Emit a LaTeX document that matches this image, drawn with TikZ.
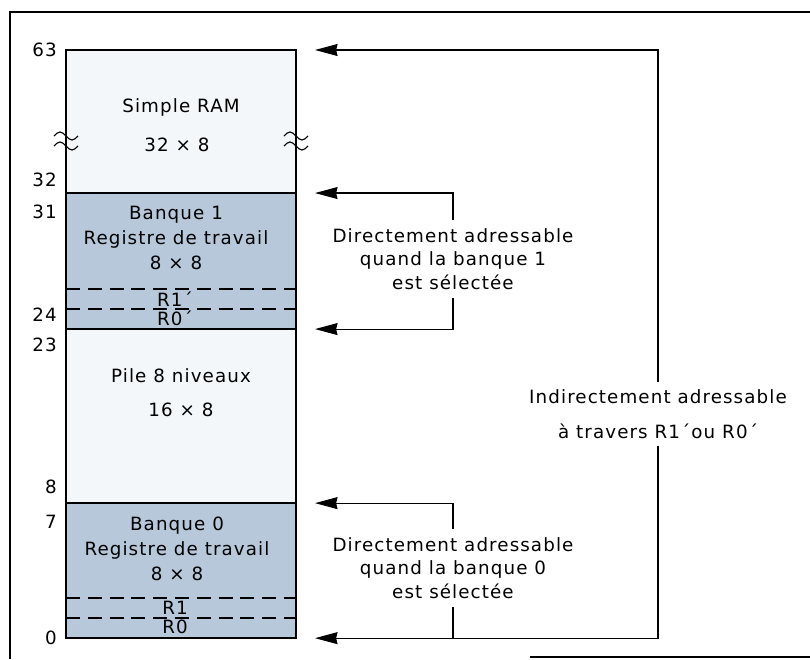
\documentclass[tikz,border=0pt]{standalone}
\usepackage{fontspec}
\setmainfont{DejaVu Sans}[LetterSpace=6]
\usetikzlibrary{arrows.meta, positioning, calc}
\definecolor{bankblue}{HTML}{B6C8D9}
\definecolor{palewhite}{HTML}{F4F7FA}
\tikzset{
	memzone/.style={draw, line width=1.4pt, fill=#1, minimum width=5.75cm, outer sep=0pt, inner sep=0pt, anchor=north},
	regline/.style={line width=1.2pt, dash pattern=on 10pt off 5.5pt},
	addrarr/.style={->, line width=0.8pt},
	breakmark/.style={line width=0.8pt},
}

\begin{document}
\begin{tikzpicture}[
		x=0.025cm, y=-0.025cm,
		txt/.style={font=\fontsize{13}{16.5}\selectfont, align=center},
		addr/.style={txt, anchor=east, inner sep=0pt},
		reg/.style={txt, inner sep=0pt},
		>={Stealth[length=16pt, width=8.5pt, inset=1pt]}
	]
	\useasboundingbox (0,0) rectangle (810,659);
	\draw[line width=1.4pt] (810,12) -- (10,12) -- (10,659);
	\draw[line width=1.4pt] (530,657) -- (810,657);

	\node[memzone=palewhite, minimum height=3.575cm] (ram) at (181,50) {};
	\node[memzone=bankblue, minimum height=3.4cm, below=0pt of ram] (bank1) {};
	\node[memzone=palewhite, minimum height=4.35cm, below=0pt of bank1] (stack) {};
	\node[memzone=bankblue, minimum height=3.375cm, below=0pt of stack] (bank0) {};
	\foreach \yy in {289,309,598,618}
		\draw[regline] (66,\yy) -- (296,\yy);
	\foreach \xx in {66,296}
		\foreach \yy in {136,146}
			\draw[breakmark] (\xx-12,\yy) sin (\xx-6,\yy-4) cos (\xx,\yy) sin (\xx+6,\yy+4) cos (\xx+12,\yy);

	\foreach \val/\yy in {63/50, 32/180, 31/212, 24/315, 23/345, 8/487, 7/522, 0/638}
		\node[addr] (a\val) at (57,\yy) {\val};

	\node[txt] (ramname) at (181,107) {Simple RAM};
	\node[txt] (ramsize) at (177,145) {32 × 8};
	\node[txt, font=\fontsize{13}{17.6}\selectfont] (b1name) at (176,238) {Banque 1\\Registre de travail\\8 × 8};
	\node[reg] (r1p) at (175,299) {R1´};
	\node[reg] (r0p) at (175,318) {R0´};
	\node[txt] (stackname) at (181,376) {Pile 8 niveaux};
	\node[txt] (stacksize) at (181,410) {16 × 8};
	\node[txt, font=\fontsize{13}{17.6}\selectfont] (b0name) at (177,549) {Banque 0\\Registre de travail\\8 × 8};
	\node[reg] (r1) at (175,608) {R1};
	\node[reg] (r0) at (175,627) {R0};

	\node[txt, inner sep=6pt] (dir1) at (453,259) {Directement adressable\\quand la banque 1\\est sélectée};
	\node[txt, inner sep=6pt] (dir0) at (453,568) {Directement adressable\\quand la banque 0\\est sélectée};
	\node[txt, inner sep=5pt] (indir) at (658,414) {Indirectement adressable\\[8pt]à travers R1´ou R0´};

	\coordinate (tip63) at ($(ram.north east)+(19,0)$);
	\coordinate (tip31) at ($(bank1.north east)+(19,0)$);
	\coordinate (tip24) at ($(bank1.south east)+(19,0)$);
	\coordinate (tip7) at ($(bank0.north east)+(19,0)$);
	\coordinate (tip0) at ($(bank0.south east)+(19,0)$);

	\draw[addrarr] (indir.north) |- (tip63);
	\draw[addrarr] (indir.south) |- (tip0);
	\draw[addrarr] (dir1.north) |- (tip31);
	\draw[addrarr] (dir1.south) |- (tip24);
	\draw[addrarr] (dir0.north) |- (tip7);
	\draw[line width=0.8pt] (dir0.south) -- (dir0.south |- tip0);
\end{tikzpicture}
\end{document}
